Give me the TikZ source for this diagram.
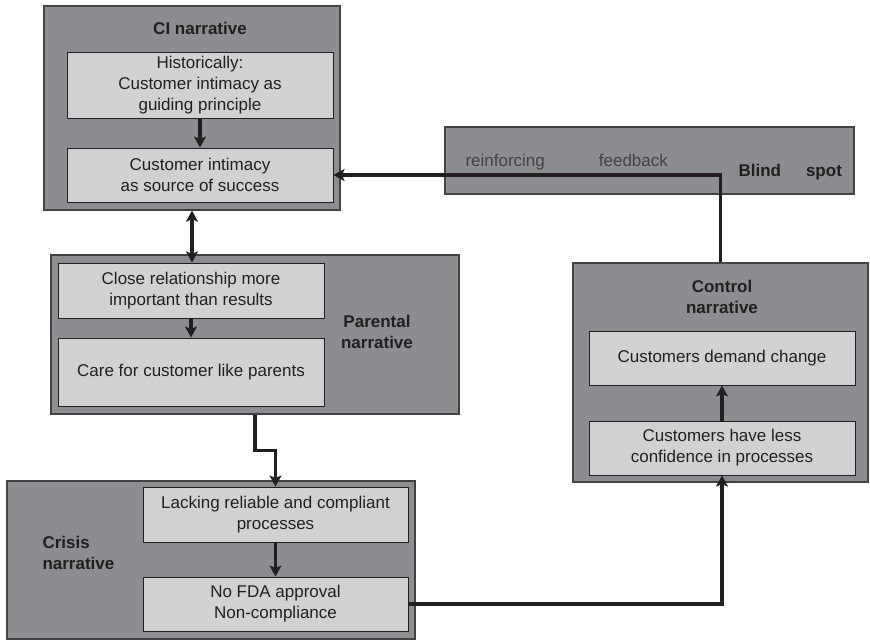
\documentclass[tikz,border=0pt]{standalone}
\usepackage{fontspec}
\setmainfont{Liberation Sans}
\usetikzlibrary{arrows.meta}

\definecolor{outergray}{RGB}{140,141,145}
\definecolor{innergray}{RGB}{208,209,211}
\definecolor{inkgray}{RGB}{35,31,32}

\tikzstyle{outerbox} = [draw=inkgray!85,line width=1.3pt,fill=outergray,inner sep=0pt]
\tikzstyle{innerbox} = [draw=inkgray,line width=1pt,fill=innergray,inner sep=0pt,align=center,text=inkgray,font=\fontsize{17}{21}\selectfont]
\tikzstyle{title} = [align=center,text=inkgray,font=\fontsize{17}{21}\selectfont\bfseries]
\tikzstyle{loopnote} = [text=inkgray!85,font=\fontsize{17}{21}\selectfont]
\tikzstyle{arrowdecorate} = [-{Stealth[length=11pt,width=12pt,inset=2.5pt]},line width=3.4pt,draw=inkgray]
\tikzstyle{doublearrow} = [{Stealth[length=11pt,width=12pt,inset=2.5pt]}-{Stealth[length=11pt,width=12pt,inset=2.5pt]},line width=3.4pt,draw=inkgray]

\begin{document}
\begin{tikzpicture}[x=1pt,y=1pt]
      \useasboundingbox (0,0) rectangle (870,-641);
      % narrative boxes
      \foreach \nodename/\x/\y/\w/\h in {
        ci/192/108/296/204,
        par/255/334.5/408/159,
        cri/211/560/408/158,
        ctl/720.5/372.5/295/219,
        blind/649.5/160.5/409/67}
      {
        \node[outerbox, minimum width=\w pt, minimum height=\h pt] (\nodename) at (\x,-\y) {};
      };
      % statements
      \foreach \nodename/\x/\y/\w/\h/\txt in {
        hist/200/85/266/66/{Historically:\\Customer intimacy as\\guiding principle},
        succ/200/175/266/54/{Customer intimacy\\as source of success},
        closerel/191/290.5/266/55/{Close relationship more\\important than results},
        care/191/372/266/68/{Care for customer like parents},
        lacking/275.5/514.5/265/55/{Lacking reliable and compliant\\processes},
        nofda/275.5/604/265/54/{No FDA approval\\Non-compliance},
        demand/722/358/266/54/{Customers demand change},
        confid/722/448/266/54/{Customers have less\\confidence in processes}}
      {
        \node[innerbox, minimum width=\w pt, minimum height=\h pt] (\nodename) at (\x,-\y) {\txt};
      };
      % titles
      \node[title] (cititle) at (200,-28) {CI narrative};
      \node[title] (partitle) at (377,-332) {Parental\\narrative};
      \node[title, align=left, anchor=west] (crititle) at (39,-553) {Crisis\\narrative};
      \node[title] (ctltitle) at (722,-297) {Control\\narrative};
      \node[title, anchor=west] (blindtitle) at (735,-172) {Blind\hspace{25pt}spot};
      \node[loopnote, anchor=west] (loopnote) at (462,-162) {reinforcing\hspace{54pt}feedback};
      %edges
      \draw[arrowdecorate] (hist) -- (succ);
      \draw[doublearrow] (ci.south) -- (ci.south |- closerel.north);
      \draw[arrowdecorate] (closerel) -- (care);
      \draw[arrowdecorate] (par.south) -- ++(0,-36) -| (lacking.north);
      \draw[arrowdecorate] (lacking) -- (nofda);
      \draw[arrowdecorate] (nofda.east) -| (confid.south);
      \draw[arrowdecorate] (confid) -- (demand);
      \draw[arrowdecorate] (ctl.north) |- (succ.east);
    \end{tikzpicture}
\end{document}
